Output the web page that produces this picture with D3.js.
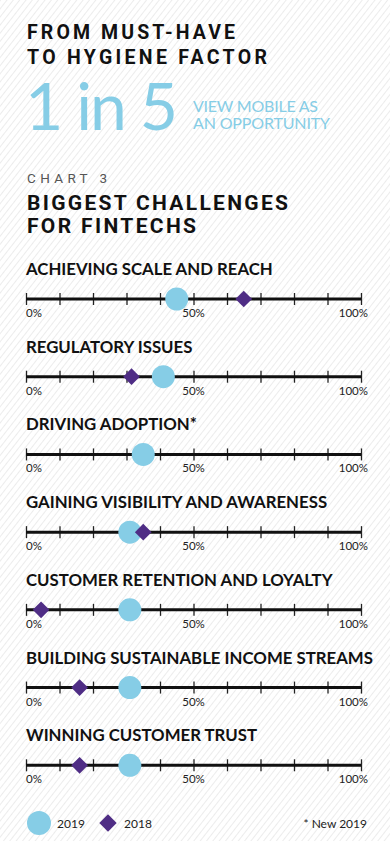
<!DOCTYPE html>
<html><head><meta charset="utf-8">
<script src="https://cdn.jsdelivr.net/npm/d3@7"></script>
<style>
html,body{margin:0;padding:0;background:#fff;}
svg{display:block;}
</style></head>
<body><div id="chart"></div>
<script>
const categories = [
  "ACHIEVING SCALE AND REACH",
  "REGULATORY ISSUES",
  "DRIVING ADOPTION*",
  "GAINING VISIBILITY AND AWARENESS",
  "CUSTOMER RETENTION AND LOYALTY",
  "BUILDING SUSTAINABLE INCOME STREAMS",
  "WINNING CUSTOMER TRUST"
];
const values2019 = [45, 41, 35, 31, 31, 31, 31];
const values2018 = [65, 31.5, null, 35, 4.5, 16, 16];
const tickValues = [0,10,20,30,40,50,60,70,80,90,100];
const tickLabels = {0:"0%", 50:"50%", 100:"100%"};
const seriesNames = ["2019", "2018"];

const W = 390, H = 841;
const blue = "#86cde6", purple = "#4f2d85";
const svg = d3.select("#chart").append("svg").attr("width", W).attr("height", H);
const defs = svg.append("defs");
const pat = defs.append("pattern").attr("id","stripes").attr("patternUnits","userSpaceOnUse")
  .attr("width",5).attr("height",5).attr("patternTransform","rotate(38)");
pat.append("rect").attr("width",5).attr("height",5).attr("fill","#fff");
pat.append("line").attr("x1",0).attr("y1",0).attr("x2",0).attr("y2",5).attr("stroke","#e0e0e0").attr("stroke-width",1.2);
svg.append("rect").attr("width",W).attr("height",H).attr("fill","url(#stripes)");

const headFont = "Roboto, 'DejaVu Sans', sans-serif";
const head = svg.append("g").attr("font-family", headFont).attr("font-weight","bold").attr("fill","#111");
head.append("text").attr("x",27).attr("y",39).attr("font-size",19.5).attr("textLength",208).attr("lengthAdjust","spacing").text("FROM MUST-HAVE");
head.append("text").attr("x",27).attr("y",64).attr("font-size",19.5).attr("textLength",240).attr("lengthAdjust","spacing").text("TO HYGIENE FACTOR");

svg.append("text").attr("x",25).attr("y",130).attr("font-family","Lato, sans-serif").attr("font-weight",400)
  .attr("font-size",66).attr("fill",blue).attr("textLength",153).attr("lengthAdjust","spacing").text("1 in 5");
const sub = svg.append("g").attr("font-family","Lato, sans-serif").attr("font-size",16).attr("fill",blue);
sub.append("text").attr("x",193).attr("y",112).attr("textLength",125).attr("lengthAdjust","spacing").text("VIEW MOBILE AS");
sub.append("text").attr("x",193).attr("y",129).attr("textLength",137).attr("lengthAdjust","spacing").text("AN OPPORTUNITY");

svg.append("text").attr("x",27).attr("y",183).attr("font-family",headFont).attr("font-size",13.5)
  .attr("fill","#555").attr("textLength",80).attr("lengthAdjust","spacing").text("CHART 3");
head.append("text").attr("x",27).attr("y",210).attr("font-size",21).attr("textLength",261).attr("lengthAdjust","spacing").text("BIGGEST CHALLENGES");
head.append("text").attr("x",27).attr("y",233).attr("font-size",21).attr("textLength",169).attr("lengthAdjust","spacing").text("FOR FINTECHS");

const x = d3.scaleLinear().domain([0,100]).range([26,361]);
const y = d3.scaleBand().domain(categories).range([260, 804]).paddingInner(0);
const axisOff = 39;

categories.forEach((c,i) => {
  const g = svg.append("g").attr("transform", `translate(0,${y(c)+axisOff})`);
  g.append("text").attr("x",26).attr("y",-24).attr("font-family","Lato, sans-serif").attr("font-weight","bold")
    .attr("font-size",16.8).attr("fill","#111").text(c);
  const axis = d3.axisBottom(x).tickValues(tickValues).tickSize(6).tickFormat("");
  const ag = g.append("g").call(axis);
  ag.select(".domain").remove();
  ag.selectAll(".tick line").attr("y1",-6).attr("y2",6).attr("stroke","#222").attr("stroke-width",1.3);
  g.append("line").attr("x1",x(0)).attr("x2",x(100)).attr("stroke","#111").attr("stroke-width",3);
  [0,50,100].forEach(t => {
    g.append("text").attr("x", t===0 ? x(t) : t===100 ? x(t)+7 : x(t)).attr("y",18)
      .attr("text-anchor", t===0 ? "start" : t===100 ? "end" : "middle")
      .attr("font-family","Lato, sans-serif").attr("font-size",11.5).attr("fill","#222").text(tickLabels[t]);
  });
  g.append("circle").attr("cx",x(values2019[i])).attr("cy",0).attr("r",11.5).attr("fill",blue);
  if (values2018[i] !== null) {
    g.append("path").attr("d", d3.symbol().type(d3.symbolSquare).size(140)())
      .attr("transform",`translate(${x(values2018[i])},0) rotate(45)`).attr("fill",purple);
  }
});

const lg = svg.append("g").attr("transform","translate(0,823)").attr("font-family","Lato, sans-serif").attr("font-size",12).attr("fill","#222");
lg.append("circle").attr("cx",39).attr("cy",0).attr("r",12).attr("fill",blue);
lg.append("text").attr("x",57).attr("y",4.5).text(seriesNames[0]);
lg.append("path").attr("d", d3.symbol().type(d3.symbolSquare).size(150)()).attr("transform","translate(108,0) rotate(45)").attr("fill",purple);
lg.append("text").attr("x",124).attr("y",4.5).text(seriesNames[1]);
lg.append("text").attr("x",367).attr("y",4.5).attr("text-anchor","end").text("* New 2019");
</script></body></html>
